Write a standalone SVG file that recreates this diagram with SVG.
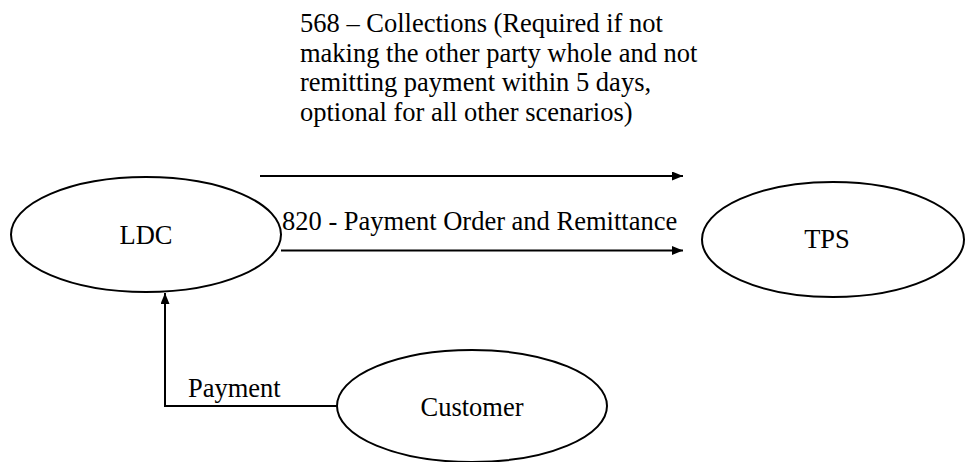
<svg xmlns="http://www.w3.org/2000/svg" width="965" height="462" viewBox="0 0 965 462">
<defs>
<style>
.node{fill:#fff;stroke:#000;stroke-width:2}
.lbl{font-family:"Liberation Serif","Times New Roman",serif;font-size:26.5px;fill:#000}
.c{text-anchor:middle}
.edge{fill:none;stroke:#000;stroke-width:2}
</style>
<marker id="ah" viewBox="0 0 11 9" refX="11" refY="4.5" markerWidth="11" markerHeight="9" markerUnits="userSpaceOnUse" orient="auto">
<path d="M0,0 L11,4.5 L0,9 Z" fill="#000"/>
</marker>
</defs>
<rect width="965" height="462" fill="#fff"/>
<g id="connectors">
<line class="edge" x1="260" y1="176" x2="683" y2="176" marker-end="url(#ah)"/>
<line class="edge" x1="281" y1="250.5" x2="683" y2="250.5" marker-end="url(#ah)"/>
<polyline class="edge" points="337,406 165,406 165,293" marker-end="url(#ah)"/>
<text class="lbl" x="300" y="32">568 – Collections (Required if not</text>
<text class="lbl" x="300" y="61.5">making the other party whole and not</text>
<text class="lbl" x="300" y="91">remitting payment within 5 days,</text>
<text class="lbl" x="300" y="120.5">optional for all other scenarios)</text>
<text class="lbl" x="282" y="230">820 - Payment Order and Remittance</text>
<text class="lbl" x="188" y="397">Payment</text>
</g>
<g id="LDC">
<ellipse class="node" cx="146" cy="234.5" rx="135" ry="57.5"/>
<text class="lbl c" x="146" y="244">LDC</text>
</g>
<g id="TPS">
<ellipse class="node" cx="833" cy="239.5" rx="131" ry="57.5"/>
<text class="lbl c" x="827" y="248">TPS</text>
</g>
<g id="Customer">
<ellipse class="node" cx="472" cy="406" rx="135" ry="56"/>
<text class="lbl c" x="472" y="416">Customer</text>
</g>
</svg>
